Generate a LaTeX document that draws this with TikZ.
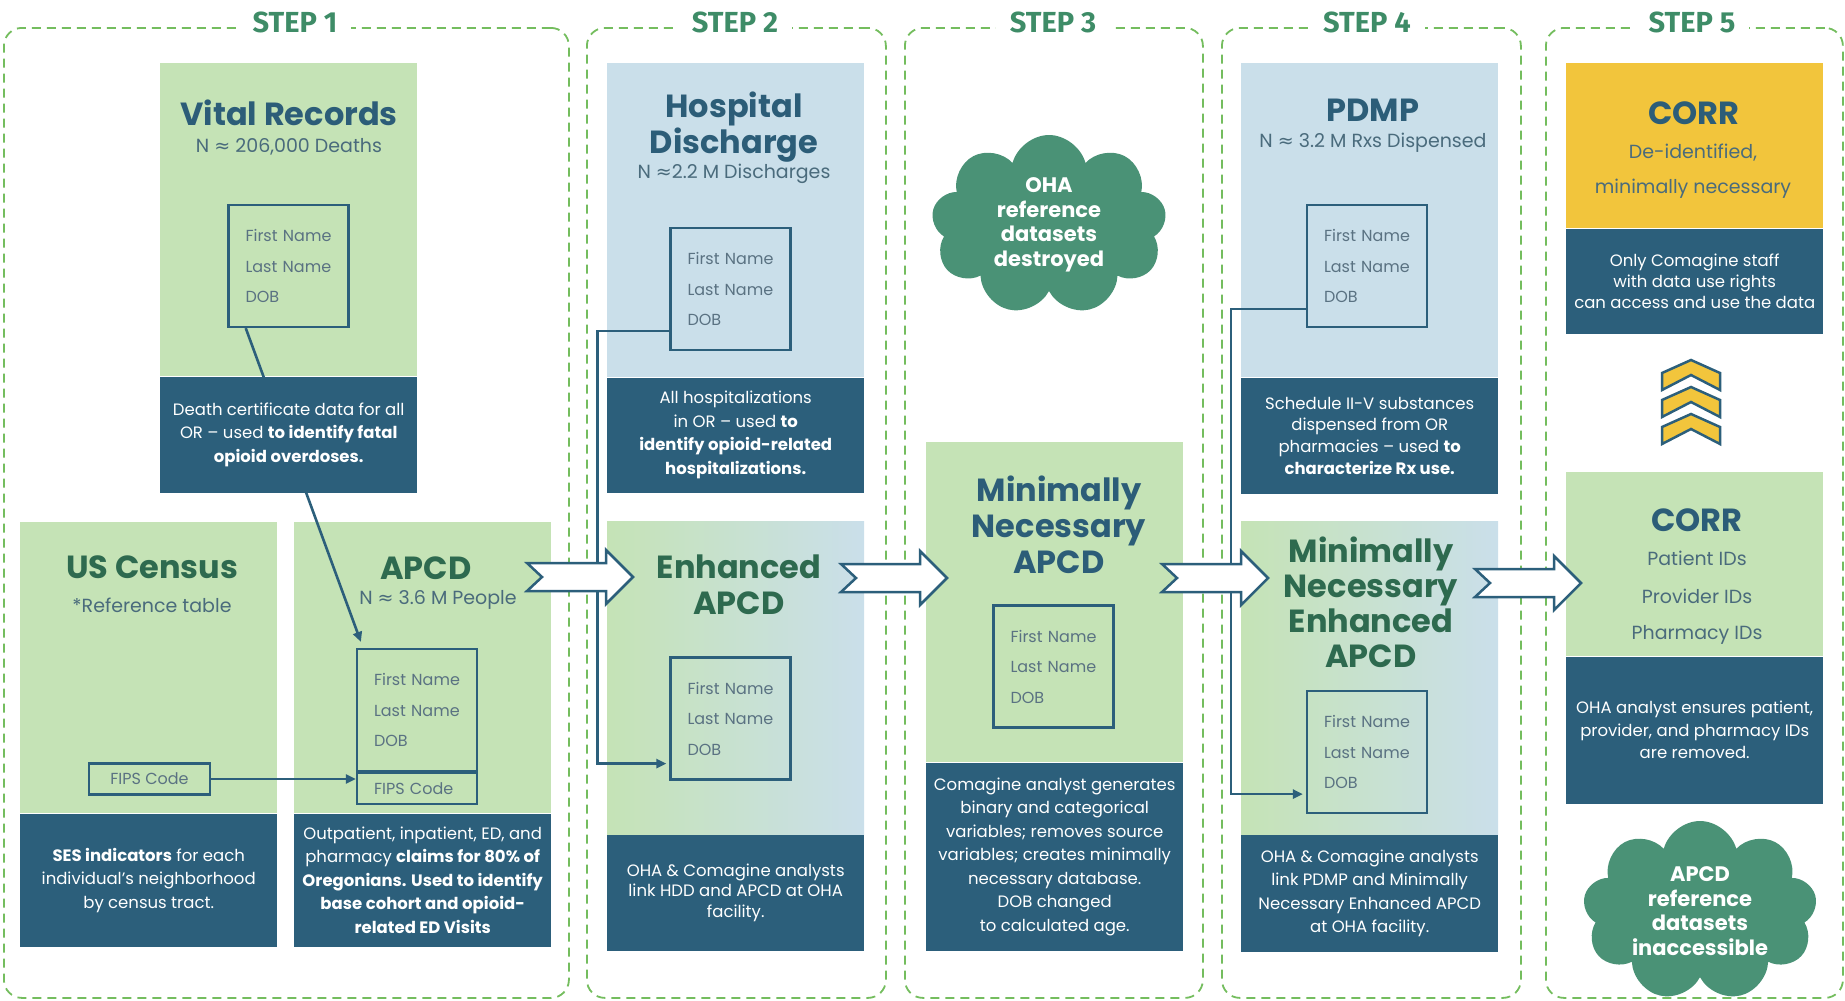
\documentclass[tikz,border=0pt]{standalone}
\usepackage{fontspec}
\setmainfont{Poppins}
\newfontfamily\stepfont{Fira Sans}
\newfontfamily\symfont{DejaVu Sans}
\usepackage{tikz}
\usetikzlibrary{arrows.meta, shapes.symbols, positioning, calc}
\usepackage{xcolor}

\definecolor{litegreen}{HTML}{C5E3B6}
\definecolor{liteblue}{HTML}{CADFEA}
\definecolor{darkpanel}{HTML}{2C5F7B}
\definecolor{titleblue}{HTML}{2C5D78}
\definecolor{titlegreen}{HTML}{2E6A4F}
\definecolor{slate}{HTML}{4A6B7C}
\definecolor{fieldgray}{HTML}{5A7282}
\definecolor{framegreen}{HTML}{74BD5E}
\definecolor{stepgreen}{HTML}{3E8C67}
\definecolor{corryellow}{HTML}{F2C53C}
\definecolor{cloudgreen}{HTML}{4A9276}

\newcommand{\approxsign}{{\symfont ≈}}

\begin{document}
\begin{tikzpicture}[x=1pt, y=-1pt,
    frame/.style={draw=framegreen, line width=1.8pt, dash pattern=on 9pt off 6pt, rounded corners=18pt, anchor=north west, inner sep=0pt, minimum height=970pt},
    steplabel/.style={fill=white, text=stepgreen, inner xsep=14pt, inner ysep=2pt, font=\stepfont\bfseries\fontsize{29}{30}\selectfont},
    panel/.style={anchor=north west, minimum width=257pt, inner sep=0pt},
    darkbox/.style={fill=darkpanel, text=white, minimum width=257pt, inner sep=0pt, align=center, font=\fontsize{16.5}{23.5}\selectfont},
    title/.style={align=center, inner sep=0pt, font=\fontsize{32}{36}\selectfont\bfseries},
    sub/.style={text=slate, inner sep=0pt, font=\fontsize{19}{24}\selectfont},
    field/.style={draw=darkpanel, line width=2.2pt, text=fieldgray, align=left, text width=86pt, inner xsep=17pt, inner ysep=0pt, minimum height=122pt, font=\fontsize{16}{30.5}\selectfont},
    fipsbox/.style={draw=darkpanel, line width=2.2pt, text=fieldgray, minimum width=121pt, minimum height=31pt, inner sep=0pt, font=\fontsize{16}{19}\selectfont},
    link/.style={draw=darkpanel, line width=2.6pt, -{Stealth[length=10pt, width=9pt, inset=0pt]}},
    puff/.style={cloud, cloud puffs=9, cloud ignores aspect, fill=cloudgreen, text=white, align=center, inner sep=0pt, font=\fontsize{21}{24.5}\selectfont\bfseries},
    flowarrow/.pic={\draw[draw=darkpanel, line width=2.5pt, fill=white] (0,-14) -- (79,-14) -- (79,-27) -- (106,0) -- (79,27) -- (79,14) -- (0,14) -- (15,0) -- cycle;},
    chevron/.pic={\draw[draw=darkpanel, line width=2.5pt, fill=corryellow] (0,0) -- (29,13) -- (29,30) -- (0,15) -- (-29,30) -- (-29,13) -- cycle;}]
\useasboundingbox (0,0) rectangle (1845,1001);

% dashed step frames
\node[frame, minimum width=565pt] (f1) at (3,27) {};
\node[frame, minimum width=299pt] (f2) at (586,27) {};
\node[frame, minimum width=298pt] (f3) at (904,27) {};
\node[frame, minimum width=299pt] (f4) at (1221,27) {};
\node[frame, minimum width=297pt] (f5) at (1545,27) {};
\node[steplabel] (s1) at (295,22) {STEP 1};
\node[steplabel] (s2) at (735,22) {STEP 2};
\node[steplabel] (s3) at (1053,22) {STEP 3};
\node[steplabel] (s4) at (1367,22) {STEP 4};
\node[steplabel] (s5) at (1692,22) {STEP 5};

% light panels
\node[panel, fill=litegreen, minimum height=313pt] (vr) at (160,63) {};
\node[panel, fill=litegreen, minimum height=291pt] (uc) at (20,522) {};
\node[panel, fill=litegreen, minimum height=291pt] (apcd) at (294,522) {};
\node[panel, fill=liteblue, minimum height=314pt] (hd) at (607,63) {};
\node[panel, left color=litegreen, right color=liteblue, minimum height=313pt] (ea) at (607,521) {};
\node[panel, fill=litegreen, minimum height=320pt] (mn) at (926,442) {};
\node[panel, fill=liteblue, minimum height=314pt] (pdmp) at (1241,63) {};
\node[panel, left color=litegreen, right color=liteblue, minimum height=313pt] (mne) at (1241,521) {};
\node[panel, fill=corryellow, minimum height=165pt] (cy) at (1566,63) {};
\node[panel, fill=litegreen, minimum height=184pt] (cg) at (1566,472) {};

% titles
\node[title, text=titleblue] (vrt) at (289,113) {Vital Records};
\node[sub] (vrn) at (289,147) {N \approxsign{} 206,000 Deaths};
\node[title, text=titlegreen] (uct) at (152,567) {US Census};
\node[sub] (ucn) at (152,605) {*Reference table};
\node[title, text=titlegreen] (apcdt) at (426,568) {APCD};
\node[sub] (apcdn) at (438,600) {N \approxsign{} 3.6 M People};
\node[title, text=titleblue] (hdt) at (734,127) {Hospital\\Discharge};
\node[sub] (hdn) at (734,174) {N \approxsign2.2 M Discharges};
\node[title, text=titlegreen] (eat) at (739,585) {Enhanced\\APCD};
\node[title, text=titleblue] (mnt) at (1059,525) {Minimally\\Necessary\\APCD};
\node[title, text=titleblue] (pdmpt) at (1373,110) {PDMP};
\node[sub] (pdmpn) at (1373,143) {N \approxsign{} 3.2 M Rxs Dispensed};
\node[title, text=titlegreen, font=\fontsize{32}{35}\selectfont\bfseries] (mnet) at (1371,602) {Minimally\\Necessary\\Enhanced\\APCD};
\node[title, text=titleblue] (cyt) at (1694,113) {CORR};
\node[sub] (cyn) at (1693,153) {De-identified,};
\node[sub] (cym) at (1693,189) {minimally necessary};
\node[title, text=titleblue] (cgt) at (1697,520) {CORR};
\node[sub] (cgp) at (1697,558) {Patient IDs};
\node[sub] (cgv) at (1697,596) {Provider IDs};
\node[sub] (cgh) at (1697,635) {Pharmacy IDs};

% identifier fields
\node[field] (vrf) at (288.5,266) {First Name\\Last Name\\DOB};
\node[field] (apcdf) at (417,710) {First Name\\Last Name\\DOB};
\node[field, minimum height=31pt, below=0pt of apcdf] (apcdx) {FIPS Code};
\node[fipsbox] (ucf) at (149.5,779) {FIPS Code};
\node[field] (hdf) at (730.5,289) {First Name\\Last Name\\DOB};
\node[field] (eaf) at (730.5,718.5) {First Name\\Last Name\\DOB};
\node[field] (mnf) at (1053.5,666.5) {First Name\\Last Name\\DOB};
\node[field] (pdmpf) at (1367,266) {First Name\\Last Name\\DOB};
\node[field] (mnef) at (1367,752) {First Name\\Last Name\\DOB};

% linkage lines
\draw[link] ($(vrf.south west)!0.15!(vrf.south east)$) -- ($(apcdf.north west)+(5,-6)$);
\draw[link] (ucf.east) -- (ucf.east -| apcdx.west);
\draw[link] ($(hdf.south west)+(0,-20)$) -- ++(-72,0) |- ($(eaf.south west)+(-3,-17)$);
\draw[link] ($(pdmpf.south west)+(0,-19)$) -- ++(-75,0) |- ($(mnef.south west)+(-3,-20)$);

% dark description panels
\node[darkbox, minimum height=116pt, below=0pt of vr] (vrd) {Death certificate data for all\\OR -- used \textbf{to identify fatal}\\\textbf{opioid overdoses.}};
\node[darkbox, minimum height=133pt, below=0pt of uc] (ucd) {\textbf{SES indicators} for each\\individual’s neighborhood\\by census tract.};
\node[darkbox, minimum height=133pt, below=0pt of apcd] (apcdd) {Outpatient, inpatient, ED, and\\pharmacy \textbf{claims for 80\% of}\\\textbf{Oregonians. Used to identify}\\\textbf{base cohort and opioid-}\\\textbf{related ED Visits}};
\node[darkbox, minimum height=115pt, below=0pt of hd] (hdd) {All hospitalizations\\in OR -- used \textbf{to}\\\textbf{identify opioid-related}\\\textbf{hospitalizations.}};
\node[darkbox, minimum height=116pt, below=0pt of ea, font=\fontsize{16.5}{20.5}\selectfont] (ead) {OHA \& Comagine analysts\\link HDD and APCD at OHA\\facility.};
\node[darkbox, minimum height=188pt, below=0pt of mn] (mnd) {Comagine analyst generates\\binary and categorical\\variables; removes source\\variables; creates minimally\\necessary database.\\DOB changed\\to calculated age.};
\node[darkbox, minimum height=116pt, below=0pt of pdmp, font=\fontsize{16.5}{21.7}\selectfont] (pdmpd) {Schedule II-V substances\\dispensed from OR\\pharmacies -- used \textbf{to}\\\textbf{characterize Rx use.}};
\node[darkbox, minimum height=117pt, below=0pt of mne] (mned) {OHA \& Comagine analysts\\link PDMP and Minimally\\Necessary Enhanced APCD\\at OHA facility.};
\node[darkbox, minimum height=105pt, below=0pt of cy, font=\fontsize{16.5}{21}\selectfont] (cyd) {Only Comagine staff\\with data use rights\\can access and use the data};
\node[darkbox, minimum height=147pt, below=0pt of cg, font=\fontsize{16.5}{22.5}\selectfont] (cgd) {OHA analyst ensures patient,\\provider, and pharmacy IDs\\are removed.};

% clouds
\node[puff, minimum width=235pt, minimum height=180pt] (oha) at (1049,225) {OHA\\reference\\datasets\\destroyed};
\node[puff, minimum width=234pt, minimum height=180pt] (inacc) at (1700,911) {APCD\\reference\\datasets\\inaccessible};

% chevrons between the two CORR panels
\pic at (1691,360) {chevron};
\pic at (1691,387) {chevron};
\pic at (1691,414) {chevron};

% flow arrows
\pic at (527,577) {flowarrow};
\pic at (841,578) {flowarrow};
\pic at (1162,578) {flowarrow};
\pic at (1475,583) {flowarrow};
\end{tikzpicture}
\end{document}
